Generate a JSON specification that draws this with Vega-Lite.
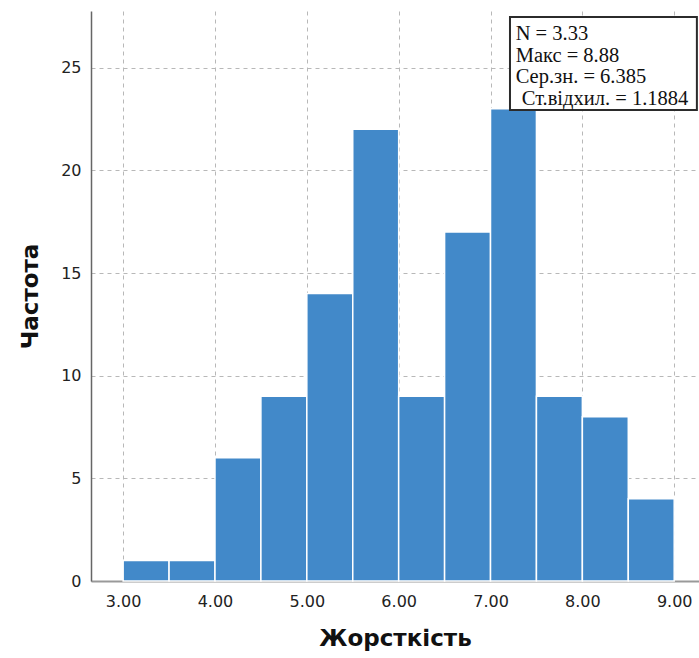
{
  "$schema": "https://vega.github.io/schema/vega-lite/v6.json",
  "width": 608,
  "height": 570,
  "autosize": "none",
  "padding": {"left": 91, "top": 11, "right": 0, "bottom": 77},
  "background": "white",
  "config": {
    "view": {"stroke": null},
    "axis": {
      "labelFont": "DejaVu Sans",
      "labelFontSize": 16,
      "labelColor": "#222222",
      "titleFont": "DejaVu Sans",
      "titleFontSize": 23,
      "titleFontWeight": "bold",
      "titleColor": "#111111",
      "ticks": false,
      "grid": true,
      "gridColor": "#b8b8b8",
      "gridDash": [4, 4],
      "gridWidth": 1
    }
  },
  "datasets": {
    "bins": [
      {"bin_start": 3.0, "bin_end": 3.5, "count": 1},
      {"bin_start": 3.5, "bin_end": 4.0, "count": 1},
      {"bin_start": 4.0, "bin_end": 4.5, "count": 6},
      {"bin_start": 4.5, "bin_end": 5.0, "count": 9},
      {"bin_start": 5.0, "bin_end": 5.5, "count": 14},
      {"bin_start": 5.5, "bin_end": 6.0, "count": 22},
      {"bin_start": 6.0, "bin_end": 6.5, "count": 9},
      {"bin_start": 6.5, "bin_end": 7.0, "count": 17},
      {"bin_start": 7.0, "bin_end": 7.5, "count": 23},
      {"bin_start": 7.5, "bin_end": 8.0, "count": 9},
      {"bin_start": 8.0, "bin_end": 8.5, "count": 8},
      {"bin_start": 8.5, "bin_end": 9.0, "count": 4}
    ],
    "statsBox": [
      {"x1": 7.212, "x2": 9.247, "y1": 22.94, "y2": 27.47}
    ],
    "statsText": [
      {"line": "N = 3.33", "x": 7.274, "y": 26.35},
      {"line": "Макс = 8.88", "x": 7.274, "y": 25.30},
      {"line": "Сер.зн. = 6.385", "x": 7.274, "y": 24.25},
      {"line": "Ст.відхил. = 1.1884", "x": 7.340, "y": 23.18}
    ]
  },
  "layer": [
    {
      "data": {"name": "bins"},
      "mark": {"type": "rect", "color": "#4289c9", "stroke": "white", "strokeWidth": 1.5},
      "encoding": {
        "x": {
          "field": "bin_start",
          "type": "quantitative",
          "scale": {"domain": [2.65, 9.27], "nice": false, "zero": false},
          "axis": {
            "title": "Жорсткість",
            "values": [3, 4, 5, 6, 7, 8, 9],
            "format": ".2f",
            "labelPadding": 12,
            "titlePadding": 18,
            "domainColor": "#999999",
            "domainWidth": 2
          }
        },
        "x2": {"field": "bin_end"},
        "y": {
          "field": "count",
          "type": "quantitative",
          "scale": {"domain": [0, 27.76], "nice": false},
          "axis": {
            "title": "Частота",
            "values": [0, 5, 10, 15, 20, 25],
            "labelPadding": 10,
            "titlePadding": 18,
            "domainColor": "#666666",
            "domainWidth": 1.5
          }
        },
        "y2": {"datum": 0}
      }
    },
    {
      "data": {"name": "statsBox"},
      "mark": {"type": "rect", "fill": "white", "stroke": "#2b2b2b", "strokeWidth": 2},
      "encoding": {
        "x": {"field": "x1", "type": "quantitative"},
        "x2": {"field": "x2"},
        "y": {"field": "y1", "type": "quantitative"},
        "y2": {"field": "y2"}
      }
    },
    {
      "data": {"name": "statsText"},
      "mark": {"type": "text", "font": "Liberation Serif", "fontSize": 20.5, "align": "left", "baseline": "alphabetic", "color": "#111111"},
      "encoding": {
        "x": {"field": "x", "type": "quantitative"},
        "y": {"field": "y", "type": "quantitative"},
        "text": {"field": "line"}
      }
    }
  ]
}
